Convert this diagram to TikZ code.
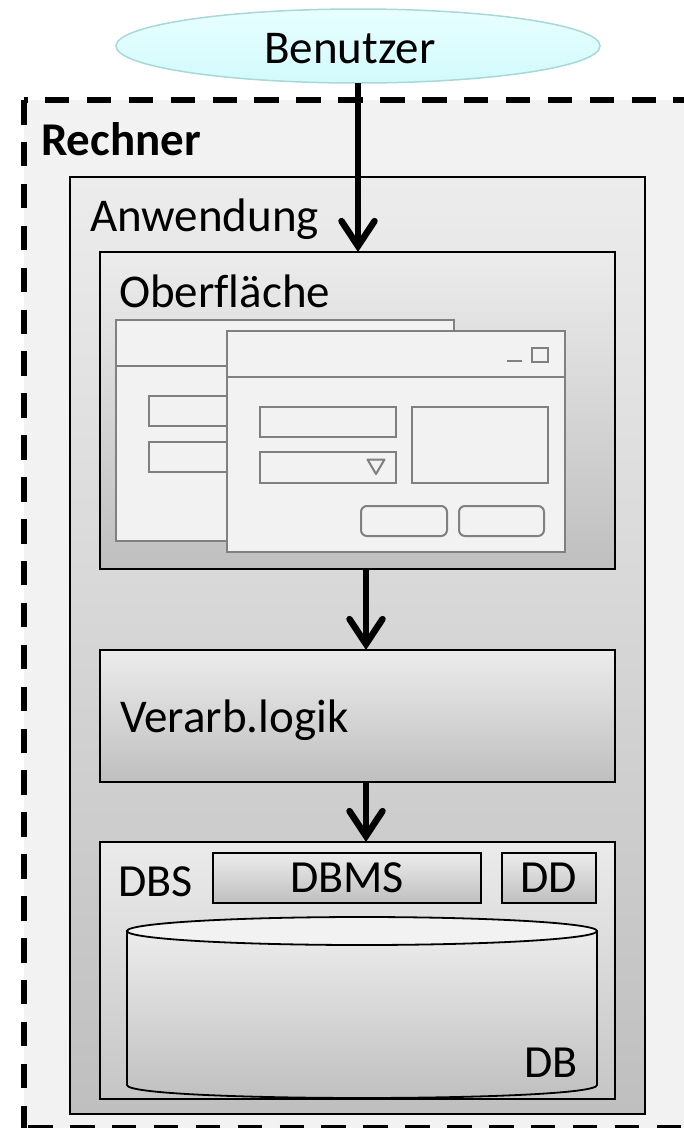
\documentclass[tikz,border=0pt]{standalone}
\usepackage{fontspec}
\setmainfont{Carlito}[Ligatures=NoCommon]
\usetikzlibrary{shapes.geometric,arrows.meta}
\definecolor{rechnerbg}{HTML}{F2F2F2}
\definecolor{boxtop}{HTML}{ECECEC}
\definecolor{boxbot}{HTML}{BFBFBF}
\definecolor{dbstop}{HTML}{EBEBEB}
\definecolor{dbsbot}{HTML}{C6C6C6}
\definecolor{wingray}{HTML}{808080}
\definecolor{winfill}{HTML}{F2F2F2}
\definecolor{usertop}{HTML}{E8FFFF}
\definecolor{userbot}{HTML}{D2FAFC}
\definecolor{userline}{HTML}{A8D8D8}
\begin{document}
\begin{tikzpicture}[x=1pt,y=-1pt,
  every node/.style={inner sep=0pt, outer sep=0pt},
  lbl/.style={font=\fontsize{47}{56}\selectfont, anchor=base west},
  box/.style={draw=black, line width=1.8pt, rectangle, top color=boxtop, bottom color=boxbot},
  win/.style={draw=wingray, line width=2pt, fill=winfill},
  winline/.style={draw=wingray, line width=2pt},
  dashline/.style={line width=5.5pt, dash pattern=on 24.5pt off 17.4pt},
  flow/.style={line width=6.5pt, -{Straight Barb[length=25pt,width=33pt,line cap=round,line join=miter]}},
]
\path[use as bounding box] (0,0) rectangle (684,1128);
\clip (0,0) rectangle (684,1128);
\fill[white] (0,0) rectangle (684,1128);
% Rechner (dashed)
\fill[rechnerbg] (24,100) rectangle (740,1128);
\draw[dashline] (24,100) -- (24,1140);
\draw[dashline, dash phase=21pt] (24,100) -- (740,100);
\draw[dashline, dash phase=37.8pt] (24,1128) -- (740,1128);
\node[lbl, font=\fontsize{47}{56}\selectfont\bfseries] (rechner) at (41,155) {Rechner};
% Benutzer
\node[ellipse, draw=userline, line width=1.5pt, top color=usertop, bottom color=userbot,
      minimum width=484pt, minimum height=74pt] (benutzer) at (358,46) {};
\node[lbl, anchor=base] (benutzertxt) at (350,63) {Benutzer};
% Anwendung
\node[box, minimum width=575pt, minimum height=937pt] (anw) at (357.5,645.5) {};
\node[lbl] (anwtxt) at (90,231) {Anwendung};
% Oberflaeche
\node[box, minimum width=515pt, minimum height=317pt] (ober) at (357.5,410.5) {};
\node[lbl] (obertxt) at (119,307) {Oberfläche};
% window 1
\draw[win] (116,320) rectangle (454,541);
\draw[winline] (116,366) -- (454,366);
\draw[winline] (149,396) rectangle (300,426);
\draw[winline] (149,442) rectangle (300,472);
% window 2
\draw[win] (227,331) rectangle (565,552);
\draw[winline] (227,377) -- (565,377);
\draw[winline] (507,361) -- (522,361);
\draw[winline] (532,348) rectangle (548,362);
\draw[winline] (260,407) rectangle (396,437);
\draw[winline] (260,452) rectangle (396,483);
\draw[winline, line join=round] (367.5,459.5) -- (384.5,459.5) -- (376,474) -- cycle;
\draw[winline] (412,407) rectangle (548,483);
\draw[winline, rounded corners=6pt] (361,506) rectangle (447,536);
\draw[winline, rounded corners=6pt] (459,506) rectangle (544,536);
% Verarbeitungslogik
\node[box, minimum width=515pt, minimum height=132pt] (verarb) at (357.5,716) {};
\node[lbl] (verarbtxt) at (120,732) {Verarb.logik};
% DBS
\node[box, top color=dbstop, bottom color=dbsbot, minimum width=515pt, minimum height=257pt] (dbs) at (357.5,970.5) {};
\node[lbl, font=\fontsize{46}{56}\selectfont] (dbstxt) at (118,896) {DBS};
\node[box, minimum width=268pt, minimum height=50pt,
      font=\fontsize{46}{56}\selectfont] (dbms) at (347,878) {DBMS};
\node[box, minimum width=94pt, minimum height=50pt,
      font=\fontsize{46}{56}\selectfont] (dd) at (549,878) {DD};
% DB cylinder
\path[draw=black, line width=1.8pt, top color=boxtop, bottom color=boxbot]
  (127,931) -- (127,1085) .. controls (127,1102.3) and (597,1102.3) .. (597,1085) -- (597,931) -- cycle;
\draw[line width=1.8pt, fill=winfill] (362,931) ellipse [x radius=235pt, y radius=14pt];
\node[lbl, font=\fontsize{46}{56}\selectfont, anchor=base east] (dbtxt) at (578,1077) {DB};
% arrows
\draw[flow] (benutzer.south) -- (benutzer.south |- ober.north);
\draw[flow] ([xshift=8.5pt]ober.south) -- ([xshift=8.5pt]verarb.north);
\draw[flow] ([xshift=8.5pt]verarb.south) -- ([xshift=8.5pt]dbs.north);
\end{tikzpicture}
\end{document}
